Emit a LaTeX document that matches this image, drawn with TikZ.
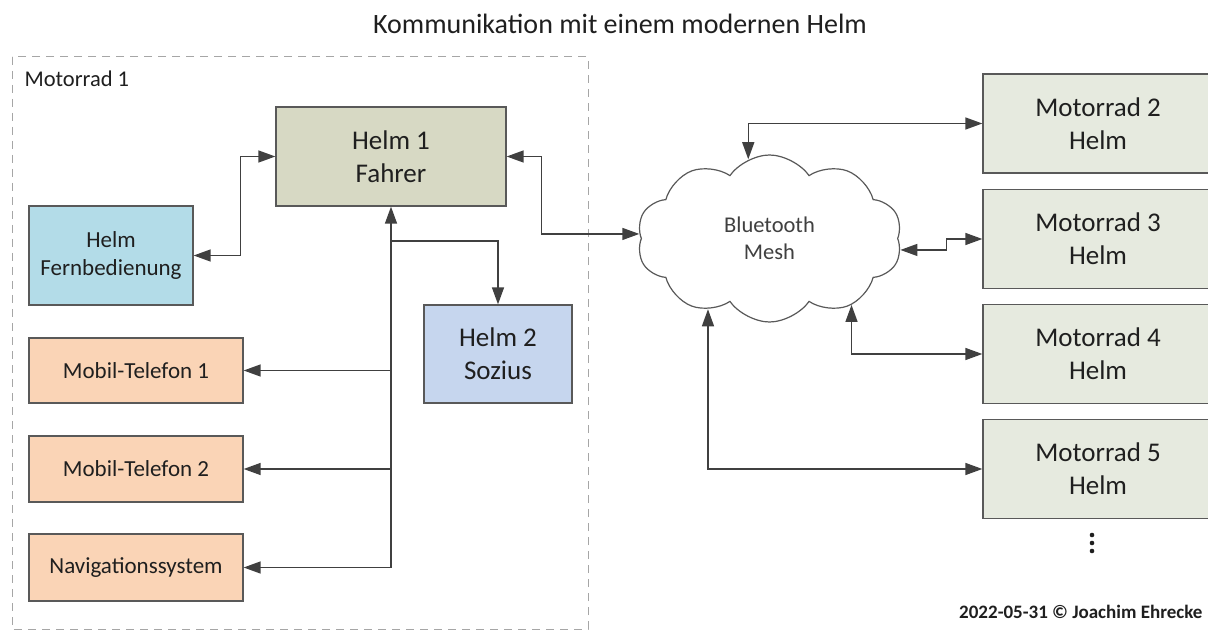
\documentclass[tikz,border=0pt]{standalone}
\usepackage{fontspec}
\setmainfont{Carlito}
\usetikzlibrary{arrows.meta,shapes.symbols}

\definecolor{textcol}{HTML}{1F1F1F}
\definecolor{boxline}{HTML}{595959}
\definecolor{linecol}{HTML}{404040}
\definecolor{frameline}{HTML}{A6A6A6}
\definecolor{riderfill}{HTML}{D7D9C4}
\definecolor{remotefill}{HTML}{B3DCE8}
\definecolor{devicefill}{HTML}{FAD4B6}
\definecolor{pillionfill}{HTML}{C6D6EE}
\definecolor{otherfill}{HTML}{E6EADF}

\begin{document}
\begin{tikzpicture}[x=1pt,y=-1pt,
  >={Triangle[length=17pt,width=12pt]},
  box/.style={draw=boxline, line width=1.3pt, align=center, inner sep=0pt, text=textcol},
  big/.style={font=\fontsize{27}{33}\selectfont},
  small/.style={font=\fontsize{23}{28}\selectfont},
  link/.style={draw=linecol, line width=1.4pt},
  bike/.style={box, big, fill=otherfill, minimum width=230pt, minimum height=99pt},
  device/.style={box, small, fill=devicefill, minimum width=214pt}
]
\useasboundingbox (0,0) rectangle (1208,631);
\fill[white] (0,0) rectangle (1208,631);

% title
\node[font=\fontsize{28}{32}\selectfont, anchor=base, text=textcol] (title) at (620,34)
  {Kommunikation mit einem modernen Helm};

% group of motorcycle 1
\draw[frameline, line width=1pt, dash pattern=on 8pt off 6pt] (12,57) rectangle (588,629);
\node[anchor=base west, font=\fontsize{22.5}{26}\selectfont, text=textcol] (grouplabel) at (21,87) {Motorrad 1};

% devices on motorcycle 1
\node[box, big, fill=riderfill, minimum width=230pt, minimum height=99pt] (h1) at (391,156.5) {Helm 1\\Fahrer};
\node[box, small, fill=remotefill, minimum width=164pt, minimum height=99pt] (fb) at (111,255.5) {Helm\\Fernbedienung};
\node[device, minimum height=65pt] (tel1) at (136,370.5) {Mobil-Telefon 1};
\node[device, minimum height=66pt] (tel2) at (136,469) {Mobil-Telefon 2};
\node[device, minimum height=67pt] (nav) at (136,567.5) {Navigationssystem};
\node[box, big, fill=pillionfill, minimum width=148pt, minimum height=98pt] (h2) at (498,354) {Helm 2\\Sozius};

% mesh network
\node[cloud, cloud puffs=10, cloud puff arc=110, cloud ignores aspect, draw=boxline, line width=1.2pt,
  minimum width=265pt, minimum height=167pt, inner sep=0pt, align=center,
  font=\fontsize{22.5}{27}\selectfont, text=linecol] (bt) at (769.5,238.5) {Bluetooth\\Mesh};

% other motorcycles
\node[bike] (mr2) at (1098,123.5) {Motorrad 2\\Helm};
\node[bike] (mr3) at (1098,239) {Motorrad 3\\Helm};
\node[bike] (mr4) at (1098,354) {Motorrad 4\\Helm};
\node[bike] (mr5) at (1098,469) {Motorrad 5\\Helm};
\foreach \yy in {535,543,551} \fill[textcol] (1092,\yy) circle (2.3pt);

% connections inside motorcycle 1
\draw[link,<->] (fb.east) -- ++(47,0) |- (h1.west);
\coordinate (tb) at (h1.south |- nav.east);
\coordinate (split) at (391,241);
\draw[link,->] (tb) -- (h1.south);
\draw[link,->] (split) -| (h2.north);
\draw[link,->] (h1.south |- tel1.east) -- (tel1.east);
\draw[link,->] (h1.south |- tel2.east) -- (tel2.east);
\draw[link,->] (tb) -- (nav.east);

% connections to the mesh
\draw[link,<->] (h1.east) -- ++(35,0) |- (bt.178);
\draw[link,<->] (bt.105) |- (mr2.west);
\draw[link,<->] (bt.-5) -- ++(46,0) |- (mr3.west);
\draw[link,<->] (bt.-39) |- (mr4.west);
\draw[link,<->] (bt.-131) |- (mr5.west);

% author line
\node[anchor=base east, font=\bfseries\fontsize{19}{23}\selectfont, text=textcol] (author) at (1206,618)
  {2022-05-31 © Joachim Ehrecke};
\end{tikzpicture}
\end{document}
